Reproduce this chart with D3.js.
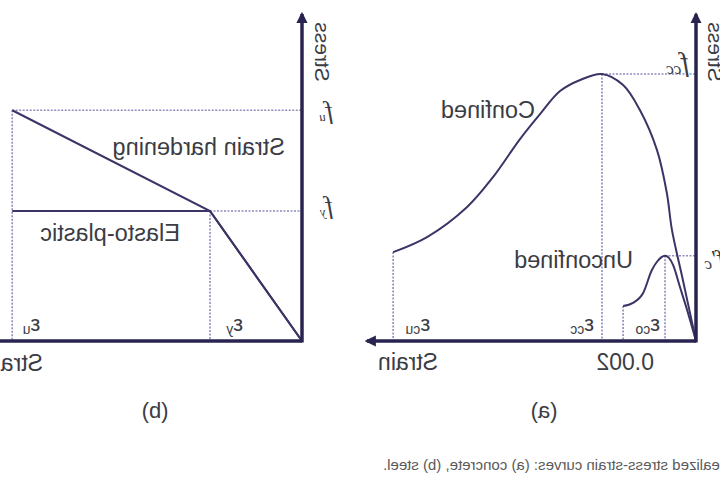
<!DOCTYPE html>
<html>
<head>
    <meta charset="utf-8" />
    <script src="https://d3js.org/d3.v7.min.js"></script>
    <style>
        body { margin: 0; background: #fff; }
        text { font-family: "Liberation Sans", Arial, sans-serif; fill: #3c3c44; }
    </style>
</head>
<body>

<svg id="svg"></svg>

<script>

// concrete, confined curve (strain, stress in MPa)
let confStrain = [0, 0.00036, 0.00066, 0.00080, 0.00107, 0.00154, 0.00200, 0.00258, 0.00318, 0.00373, 0.00428, 0.00483, 0.00557, 0.00628, 0.00738, 0.00831];
let confStress = [0, 21.5, 39.1, 52.1, 67.2, 81.3, 90.1, 94.0, 91.9, 88.0, 79.9, 71.1, 57.7, 47.2, 36.6, 31.3];

// concrete, unconfined curve
let unconfStrain = [0, 0.00022, 0.00044, 0.00063, 0.00085, 0.00107, 0.00121, 0.00145, 0.00173, 0.00200];
let unconfStress = [0, 9.9, 19.0, 26.8, 30.0, 27.9, 25.0, 16.9, 13.4, 12.3];

// steel
let steelStrain = [0, 0.002, 0.0063];
let hardeningStress = [0, 400, 710];
let plasticStress = [0, 400, 400];

let strainTick = "0.002";
let panelLabels = ["(a)", "(b)"];
let caption = "Idealized stress-strain curves: (a) concrete, (b) steel.";

let W = 720, H = 480;

let svg = d3.select("#svg")
    .attr("width", W)
    .attr("height", H);

// the whole picture is flipped left-right
let root = svg.append("g")
    .attr("transform", "translate(" + W + ",0) scale(-1,1)");

let axisColor = "#29244f";
let lineColor = "#3a3566";
let dotColor = "#8f8bbf";

let defs = svg.append("defs");
defs.append("marker")
    .attr("id", "arrow")
    .attr("viewBox", "0 0 10 10")
    .attr("refX", 8).attr("refY", 5)
    .attr("markerWidth", 3.2).attr("markerHeight", 3.2)
    .attr("markerUnits", "strokeWidth")
    .attr("orient", "auto")
    .append("path")
    .attr("d", "M0,0 L10,5 L0,10 z")
    .attr("fill", axisColor);

// scales
let xC = d3.scaleLinear().domain([0, 0.009]).range([24, 352]);
let yC = d3.scaleLinear().domain([0, 94]).range([341, 74]);
let xS = d3.scaleLinear().domain([0, 0.002]).range([418, 510]);
let yS = d3.scaleLinear().domain([0, 400]).range([341, 211]);

function dotted(x1, y1, x2, y2) {
    root.append("line")
        .attr("x1", x1).attr("y1", y1)
        .attr("x2", x2).attr("y2", y2)
        .attr("stroke", dotColor)
        .attr("stroke-width", 1.6)
        .attr("stroke-dasharray", "2,1.5");
}

function curve(xs, ys, sx, sy, kind) {
    let pts = xs.map((d, i) => [sx(d), sy(ys[i])]);
    root.append("path")
        .attr("d", d3.line().curve(kind)(pts))
        .attr("fill", "none")
        .attr("stroke", lineColor)
        .attr("stroke-width", 2);
}

function axes(sx, sy, xMax, yMax) {
    root.append("line")
        .attr("x1", sx(0)).attr("y1", sy(0))
        .attr("x2", sx(xMax)).attr("y2", sy(0))
        .attr("stroke", axisColor).attr("stroke-width", 3.5)
        .attr("marker-end", "url(#arrow)");
    root.append("line")
        .attr("x1", sx(0)).attr("y1", sy(0) + 1.5)
        .attr("x2", sx(0)).attr("y2", sy(yMax))
        .attr("stroke", axisColor).attr("stroke-width", 3.5)
        .attr("marker-end", "url(#arrow)");
}

function label(x, y, str, size, anchor) {
    return root.append("text")
        .attr("x", x).attr("y", y)
        .attr("font-size", size)
        .attr("text-anchor", anchor || "start")
        .text(str);
}

function sym(x, y, main, sub, italicSerif, big) {
    let t = root.append("text").attr("x", x).attr("y", y);
    let m = t.append("tspan").text(main);
    if (italicSerif) {
        m.style("font-family", "'Liberation Serif', serif")
            .style("font-style", "italic").attr("font-size", big || 28);
    } else {
        m.attr("font-size", 22);
    }
    t.append("tspan").text(sub)
        .attr("font-size", italicSerif ? 17 : 14)
        .style("font-family", italicSerif ? "'Liberation Serif', serif" : null)
        .style("font-style", italicSerif ? "italic" : null)
        .attr("dy", 3);
    return t;
}

// ---------- (a) concrete ----------
let pc = d3.maxIndex(confStress);
let pu = d3.maxIndex(unconfStress);
let lc = confStrain.length - 1;
let lu = unconfStrain.length - 1;

dotted(xC(confStrain[pc]), yC(confStress[pc]), xC(0), yC(confStress[pc]));
dotted(xC(confStrain[pc]), yC(confStress[pc]), xC(confStrain[pc]), yC(0));
dotted(xC(unconfStrain[pu]), yC(unconfStress[pu]), xC(0), yC(unconfStress[pu]));
dotted(xC(unconfStrain[pu]), yC(unconfStress[pu]), xC(unconfStrain[pu]), yC(0));
dotted(xC(unconfStrain[lu]), yC(unconfStress[lu]), xC(unconfStrain[lu]), yC(0));
dotted(xC(confStrain[lc]), yC(confStress[lc]), xC(confStrain[lc]), yC(0));

curve(confStrain, confStress, xC, yC, d3.curveCatmullRom.alpha(0.5));
curve(unconfStrain, unconfStress, xC, yC, d3.curveMonotoneX);
axes(xC, yC, 0.00903, 115);

label(185, 118, "Confined", 23.5);
label(87, 268, "Unconfined", 23.5);
label(xC(0.009) - 10, 370, "Strain", 23, "end");
label(xC(0.002) - 2, 370, strainTick, 23, "middle");
label(176, 418, panelLabels[0], 22, "middle");
label(12, 52, "Stress", 21, "middle")
    .attr("transform", "rotate(-90,12,52)");

sym(31, 71, "f", "cc", true);
sym(-4, 266, "f\u2032", "c", true, 24);
sym(xC(confStrain[pc]) + 8, 331, "\u03b5", "cc");
sym(xC(unconfStrain[pu]) + 5, 331, "\u03b5", "co");
sym(xC(confStrain[lc]) - 37, 331, "\u03b5", "cu");

// ---------- (b) steel ----------
let iu = steelStrain.length - 1;
dotted(xS(steelStrain[iu]), yS(hardeningStress[iu]), xS(0), yS(hardeningStress[iu]));
dotted(xS(steelStrain[iu]), yS(hardeningStress[iu]), xS(steelStrain[iu]), yS(0));
dotted(xS(steelStrain[1]), yS(hardeningStress[1]), xS(0), yS(hardeningStress[1]));
dotted(xS(steelStrain[1]), yS(hardeningStress[1]), xS(steelStrain[1]), yS(0));

curve(steelStrain, plasticStress, xS, yS, d3.curveLinear);
curve(steelStrain, hardeningStress, xS, yS, d3.curveLinear);
axes(xS, yS, 0.0072, 1006);

label(435, 155, "Strain hardening", 23.5);
label(540, 241, "Elasto-plastic", 23.5);
label(677, 371, "Strain", 23);
label(565, 418, panelLabels[1], 22, "middle");
label(405, 52, "Stress", 21, "middle")
    .attr("transform", "rotate(-90,405,52)");

sym(387, 119, "f", "u", true, 26).select("tspan:last-child").attr("dy", 2).attr("font-size", 13);
sym(387, 214, "f", "y", true, 26).select("tspan:last-child").attr("dy", 2).attr("font-size", 13);
sym(xS(steelStrain[iu]) - 28, 331, "\u03b5", "u");
sym(xS(steelStrain[1]) - 33, 331, "\u03b5", "y");

// caption
root.append("text")
    .attr("x", 337).attr("y", 470)
    .attr("text-anchor", "end")
    .attr("font-size", 15)
    .style("fill", "#5a5a5a")
    .text(caption);

</script>

</body>
</html>
